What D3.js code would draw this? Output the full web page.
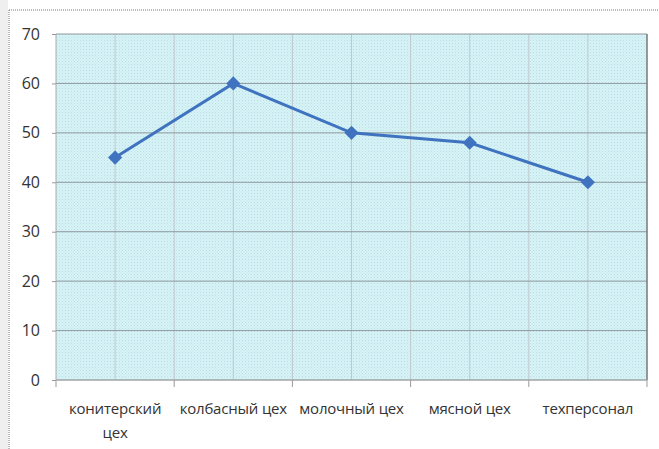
<!DOCTYPE html>
<html>
<head>
<meta charset="utf-8">
<script src="https://cdn.jsdelivr.net/npm/d3@7"></script>
<style>
body { margin: 0; background: #fff; }
text { font-family: "Open Sans", "Noto Sans", sans-serif; fill: #333; }
</style>
</head>
<body>
<div id="chart"></div>
<script>
var width = 659,
    height = 449;

var categories = ["конитерский цех", "колбасный цех", "молочный цех", "мясной цех", "техперсонал"];
var values = [45, 60, 50, 48, 40];
var yTicks = [0, 10, 20, 30, 40, 50, 60, 70];

var margin = {left: 56, top: 34, right: 12, bottom: 69};
var plotW = width - margin.left - margin.right,
    plotH = height - margin.top - margin.bottom;

var svg = d3.select("#chart").append("svg")
    .attr("width", width)
    .attr("height", height);

// background fill pattern
var defs = svg.append("defs");
var pat = defs.append("pattern")
    .attr("id", "dots")
    .attr("width", 3).attr("height", 3)
    .attr("patternUnits", "userSpaceOnUse");
pat.append("rect").attr("width", 3).attr("height", 3).attr("fill", "#d6f3f5");
pat.append("rect").attr("x", 0).attr("y", 0).attr("width", 1).attr("height", 1).attr("fill", "#bcdbe8");
pat.append("rect").attr("x", 1.5).attr("y", 1.5).attr("width", 1).attr("height", 1).attr("fill", "#c8e6ee");

// outer chart frame
svg.append("rect").attr("x", 0).attr("y", 0).attr("width", 8).attr("height", height).attr("fill", "#efefef");
svg.append("line").attr("x1", 9).attr("x2", width).attr("y1", 10).attr("y2", 10)
    .attr("stroke", "#777").attr("stroke-dasharray", "1,1");
svg.append("line").attr("x1", 9).attr("x2", 9).attr("y1", 10).attr("y2", height)
    .attr("stroke", "#777").attr("stroke-dasharray", "1,1");

var g = svg.append("g").attr("transform", "translate(" + margin.left + "," + margin.top + ")");

var x = d3.scaleBand().domain(categories).range([0, plotW]);
var y = d3.scaleLinear().domain([0, 70]).range([plotH, 0]);

g.append("rect").attr("width", plotW).attr("height", plotH).attr("fill", "url(#dots)");

// vertical gridlines at half band steps
var halfSteps = d3.range(1, categories.length * 2).map(function(i) { return i * x.bandwidth() / 2; });
g.selectAll(".vgrid").data(halfSteps).enter().append("line")
    .attr("x1", function(d) { return d; }).attr("x2", function(d) { return d; })
    .attr("y1", 0).attr("y2", plotH)
    .attr("stroke", "#bfc9cc").attr("stroke-width", 1);

// horizontal gridlines
g.selectAll(".hgrid").data(yTicks).enter().append("line")
    .attr("x1", 0).attr("x2", plotW)
    .attr("y1", function(d) { return y(d); }).attr("y2", function(d) { return y(d); })
    .attr("stroke", "#8e9a9e").attr("stroke-width", 1);

// plot border
g.append("line").attr("x1", plotW).attr("x2", plotW).attr("y1", 0).attr("y2", plotH)
    .attr("stroke", "#777").attr("stroke-width", 1.5);
g.append("line").attr("x1", 0).attr("x2", 0).attr("y1", 0).attr("y2", plotH)
    .attr("stroke", "#aaa").attr("stroke-width", 1);

// y axis
var yAxis = g.append("g").call(d3.axisLeft(y).tickValues(yTicks).tickSize(4).tickPadding(12));
yAxis.select(".domain").remove();
yAxis.selectAll("line").attr("stroke", "#999");
yAxis.selectAll("text").style("font-size", "16px").attr("fill", "#333");

// x axis ticks at band boundaries
var bounds = d3.range(0, categories.length + 1).map(function(i) { return i * x.bandwidth(); });
g.selectAll(".xtick").data(bounds).enter().append("line")
    .attr("x1", function(d) { return d; }).attr("x2", function(d) { return d; })
    .attr("y1", plotH).attr("y2", plotH + 7)
    .attr("stroke", "#999");
g.append("line").attr("x1", 0).attr("x2", plotW).attr("y1", plotH).attr("y2", plotH)
    .attr("stroke", "#aaa");

// x labels
var labelLines = [["конитерский", "цех"], ["колбасный цех"], ["молочный цех"], ["мясной цех"], ["техперсонал"]];
categories.forEach(function(c, i) {
    var t = g.append("text")
        .attr("x", x(c) + x.bandwidth() / 2)
        .attr("y", plotH + 34)
        .attr("text-anchor", "middle")
        .style("font-size", "15px")
        .style("letter-spacing", "-0.2px");
    labelLines[i].forEach(function(l, j) {
        t.append("tspan").attr("x", x(c) + x.bandwidth() / 2).attr("dy", j ? 24 : 0).text(l);
    });
});

// line
var line = d3.line()
    .x(function(d, i) { return x(categories[i]) + x.bandwidth() / 2; })
    .y(function(d) { return y(d); });
g.append("path").datum(values)
    .attr("d", line)
    .attr("fill", "none")
    .attr("stroke", "#3f73c0")
    .attr("stroke-width", 3);

g.selectAll(".marker").data(values).enter().append("path")
    .attr("d", d3.symbol().type(d3.symbolSquare).size(100))
    .attr("transform", function(d, i) {
        return "translate(" + (x(categories[i]) + x.bandwidth() / 2) + "," + y(d) + ") rotate(45)";
    })
    .attr("fill", "#3f73c0");
</script>
</body>
</html>
